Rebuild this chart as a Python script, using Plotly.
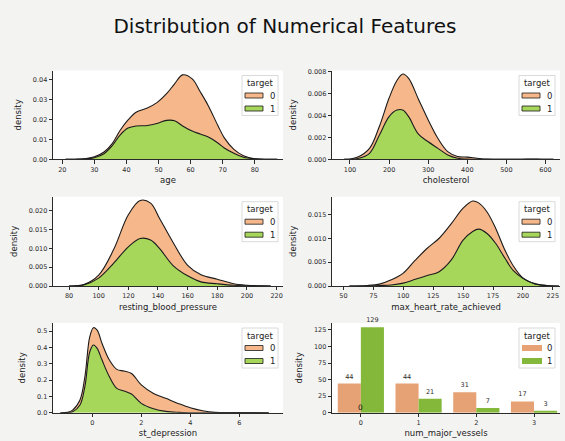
import plotly.graph_objects as go
from plotly.subplots import make_subplots

W, H = 565, 441

# ---------------- data (stacked KDE heights) ----------------
title_text = "Distribution of Numerical Features"
legend_title = "target"
hue_labels = ["0", "1"]

age_x = [21, 24, 27, 30, 33, 35.5, 38, 40.5, 43, 46.5, 49.5, 52.5, 55, 57.5, 60.5, 63, 65.5, 68.5, 70.5, 73.5, 76.5, 80, 84, 87]
age_top = [0, 0.00005, 0.0003, 0.0013, 0.0037, 0.0078, 0.0145, 0.0198, 0.0237, 0.0258, 0.0285, 0.033, 0.038, 0.0425, 0.0405, 0.034, 0.027, 0.017, 0.0108, 0.005, 0.0018, 0.0003, 0.00003, 0]
age_t1 = [0, 0.00003, 0.0002, 0.0008, 0.0028, 0.0067, 0.0122, 0.0157, 0.0168, 0.017, 0.018, 0.0196, 0.0194, 0.0168, 0.0142, 0.0127, 0.0112, 0.0082, 0.0057, 0.003, 0.001, 0.0002, 0.00002, 0]

chol_x = [85, 100, 120, 150, 175, 200, 220, 235, 250, 275, 300, 325, 350, 375, 400, 425, 450, 500, 540, 565, 590, 620]
chol_top = [0, 0.00002, 0.0002, 0.001, 0.003, 0.0056, 0.0072, 0.0078, 0.0074, 0.0055, 0.0036, 0.0019, 0.0007, 0.00025, 0.0002, 0.0001, 0.00002, 0, 0.00001, 0.00003, 0.00001, 0]
chol_t1 = [0, 0.00001, 0.00007, 0.00055, 0.0022, 0.0039, 0.0045, 0.0045, 0.0039, 0.0023, 0.0016, 0.001, 0.0004, 0.0001, 0.00002, 0, 0, 0, 0, 0, 0, 0]

bp_x = [80, 90, 100, 110, 120, 128, 135, 141, 150, 160, 169, 180, 191, 200, 210, 216]
bp_top = [0, 0.0004, 0.0029, 0.0096, 0.0189, 0.0227, 0.0220, 0.0180, 0.0117, 0.0055, 0.0030, 0.0018, 0.0006, 0.0002, 0.00005, 0]
bp_t1 = [0, 0.0003, 0.0021, 0.0060, 0.0104, 0.0126, 0.0122, 0.0100, 0.0055, 0.0027, 0.0011, 0.0006, 0.0002, 0.00005, 0, 0]

hr_x = [55, 70, 80, 90, 100, 110, 120, 130, 140, 150, 158, 163, 170, 177, 185, 192, 200, 210, 220, 230]
hr_top = [0, 0.0001, 0.0004, 0.0013, 0.0027, 0.0054, 0.0079, 0.0100, 0.0130, 0.0163, 0.0178, 0.0174, 0.0155, 0.0122, 0.0075, 0.0042, 0.0017, 0.0005, 0.0001, 0]
hr_t1 = [0, 0, 0.0001, 0.0002, 0.0006, 0.0014, 0.0022, 0.0030, 0.0054, 0.0096, 0.0114, 0.0119, 0.0110, 0.0090, 0.0058, 0.0032, 0.0016, 0.0004, 0.0001, 0]

st_x = [-1.3, -1.0, -0.8, -0.5, -0.3, -0.1, 0.05, 0.2, 0.4, 0.7, 1.0, 1.3, 1.6, 2.0, 2.5, 3.0, 3.5, 4.0, 4.5, 5.0, 6.0, 7.2]
st_top = [0, 0.003, 0.016, 0.078, 0.22, 0.465, 0.52, 0.506, 0.424, 0.322, 0.265, 0.255, 0.24, 0.17, 0.118, 0.088, 0.057, 0.03, 0.012, 0.002, 0.0005, 0]
st_t1 = [0, 0.001, 0.006, 0.047, 0.16, 0.373, 0.414, 0.394, 0.322, 0.22, 0.149, 0.133, 0.114, 0.057, 0.024, 0.008, 0.002, 0, 0, 0, 0, 0]

vessels_cat = [0, 1, 2, 3]
vessels_t0 = [44, 44, 31, 17]
vessels_t1 = [129, 21, 7, 3]

kde_panels = [
    ("age", age_x, age_top, age_t1, [17.1, 88.8], [0, 0.0447], [20, 30, 40, 50, 60, 70, 80], [0, 0.01, 0.02, 0.03, 0.04], ".2f"),
    ("cholesterol", chol_x, chol_top, chol_t1, [54, 637], [0, 0.00812], [100, 200, 300, 400, 500, 600], [0, 0.002, 0.004, 0.006, 0.008], ".3f"),
    ("resting_blood_pressure", bp_x, bp_top, bp_t1, [69.2, 224.3], [0, 0.0237], [80, 100, 120, 140, 160, 180, 200, 220], [0, 0.005, 0.01, 0.015, 0.02], ".3f"),
    ("max_heart_rate_achieved", hr_x, hr_top, hr_t1, [40.4, 231], [0, 0.0187], [50, 75, 100, 125, 150, 175, 200, 225], [0, 0.005, 0.01, 0.015], ".3f"),
    ("st_depression", st_x, st_top, st_t1, [-1.6, 7.78], [0, 0.549], [0, 2, 4, 6], [0, 0.1, 0.2, 0.3, 0.4, 0.5], ".1f"),
]

# ---------------- style ----------------
FONT = "DejaVu Sans"
KDE_COL = ["#f6b88b", "#a6d65a"]
BAR_COL = ["#e6a274", "#84b83a"]
AX_COL = "#2b2b2b"

col_px = [(53, 283), (332, 560)]
row_px = [(70.5, 159.3), (196.7, 286.0), (323.0, 412.7)]


def px_x(p):
    return p / W


def px_y(p):
    return 1 - p / H


fig = make_subplots(rows=3, cols=2)

for i, (name, xs, top, t1, xr, yr, xt, yt, yfmt) in enumerate(kde_panels):
    r, c = i // 2 + 1, i % 2 + 1
    fig.add_trace(go.Scatter(x=xs, y=t1, mode="lines", line=dict(color="#1a1a1a", width=1.1, shape="spline", smoothing=1.0),
                             fill="tozeroy", fillcolor=KDE_COL[1], showlegend=False, hoverinfo="skip"), row=r, col=c)
    fig.add_trace(go.Scatter(x=xs, y=top, mode="lines", line=dict(color="#1a1a1a", width=1.1, shape="spline", smoothing=1.0),
                             fill="tonexty", fillcolor=KDE_COL[0], showlegend=False, hoverinfo="skip"), row=r, col=c)
    fig.update_xaxes(range=xr, tickvals=xt, title_text=name, row=r, col=c)
    fig.update_yaxes(range=yr, tickvals=yt, tickformat=yfmt, title_text="density", row=r, col=c)

# bar panel
fig.add_trace(go.Bar(x=vessels_cat, y=vessels_t0, marker=dict(color=BAR_COL[0], line=dict(width=0)),
                     text=vessels_t0, textposition="outside", cliponaxis=False,
                     textfont=dict(size=6.5, color="#2b2b2b"), showlegend=False), row=3, col=2)
fig.add_trace(go.Bar(x=vessels_cat, y=vessels_t1, marker=dict(color=BAR_COL[1], line=dict(width=0)),
                     text=vessels_t1, textposition="outside", cliponaxis=False,
                     textfont=dict(size=6.5, color="#2b2b2b"), showlegend=False), row=3, col=2)
fig.update_xaxes(range=[-0.5, 3.45], tickvals=vessels_cat, title_text="num_major_vessels", row=3, col=2)
fig.update_yaxes(range=[0, 135.45], tickvals=[0, 25, 50, 75, 100, 125], title_text="density", row=3, col=2)
fig.add_annotation(x=0, y=0, xref="x6", yref="y6", text="0", showarrow=False, yanchor="bottom",
                   yshift=-1, font=dict(size=7.5, color="#111111"))

# common axis style + domains
for i in range(6):
    r, c = i // 2, i % 2
    xa = "xaxis" if i == 0 else f"xaxis{i+1}"
    ya = "yaxis" if i == 0 else f"yaxis{i+1}"
    x0, x1 = col_px[c]
    t, b = row_px[r]
    fig.layout[xa].update(domain=[px_x(x0), px_x(x1)], showline=True, linecolor=AX_COL, linewidth=0.8,
                          ticks="outside", ticklen=3.5, tickwidth=0.8, tickcolor=AX_COL, showgrid=False,
                          zeroline=False, tickfont=dict(size=6.5, color=AX_COL, family=FONT),
                          title=dict(font=dict(size=8.5, color="#222222", family=FONT), standoff=4))
    fig.layout[ya].update(domain=[px_y(b), px_y(t)], showline=True, linecolor=AX_COL, linewidth=0.8,
                          ticks="outside", ticklen=3.5, tickwidth=0.8, tickcolor=AX_COL, showgrid=False,
                          zeroline=False, tickfont=dict(size=6.5, color=AX_COL, family=FONT),
                          title=dict(font=dict(size=8.5, color="#222222", family=FONT), standoff=9))

    # manual legend box (matplotlib-style) at upper right of each axes
    R = x1 - 1
    T = t
    fig.add_shape(type="rect", xref="paper", yref="paper",
                  x0=px_x(R - 40), x1=px_x(R - 4), y0=px_y(T + 45), y1=px_y(T + 5),
                  line=dict(color="#d0d0d0", width=0.8), fillcolor="rgba(255,255,255,0.85)", layer="above")
    fig.add_annotation(xref="paper", yref="paper", x=px_x(R - 22), y=px_y(T + 12.5), text=legend_title,
                       showarrow=False, xanchor="center", yanchor="middle", font=dict(size=8.5, color="#222222"))
    for k in range(2):
        cy = T + 25 + k * 13
        if i < 5:
            fig.add_shape(type="rect", xref="paper", yref="paper",
                          x0=px_x(R - 37), x1=px_x(R - 19), y0=px_y(cy + 2.5), y1=px_y(cy - 2.5),
                          line=dict(color="#1a1a1a", width=0.8), fillcolor=KDE_COL[k], layer="above")
        else:
            fig.add_shape(type="rect", xref="paper", yref="paper",
                          x0=px_x(R - 37), x1=px_x(R - 17), y0=px_y(cy + 3), y1=px_y(cy - 3),
                          line=dict(width=0), fillcolor=BAR_COL[k], layer="above")
        fig.add_annotation(xref="paper", yref="paper", x=px_x(R - 10), y=px_y(cy), text=hue_labels[k],
                           showarrow=False, xanchor="center", yanchor="middle", font=dict(size=8.5, color="#222222"))

fig.update_layout(
    template="none",
    width=W, height=H,
    margin=dict(l=0, r=0, t=0, b=0),
    paper_bgcolor="#f3f3f2",
    plot_bgcolor="#ffffff",
    font=dict(family=FONT, color="#222222"),
    barmode="group", bargap=0.2, bargroupgap=0,
    title=dict(text=title_text, x=285 / W, xanchor="center", y=px_y(25.5), yanchor="middle",
               font=dict(size=20, color="#111111", family=FONT)),
    showlegend=False,
)

fig.write_html("out.html", config={"displayModeBar": False},
               post_script="document.body.style.margin='0px';document.body.style.overflow='hidden';")
